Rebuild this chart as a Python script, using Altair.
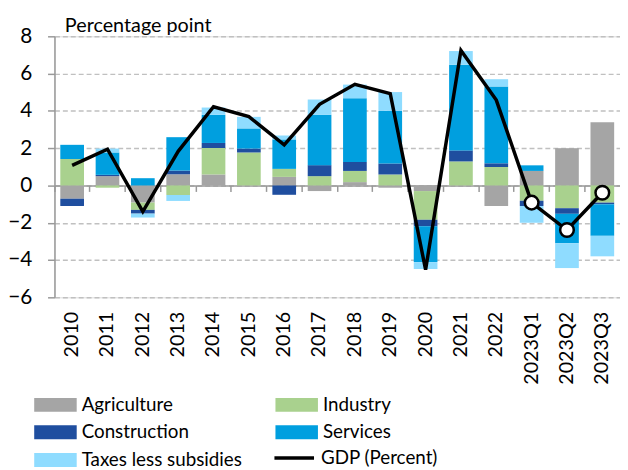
import altair as alt
import pandas as pd

categories = ["2010", "2011", "2012", "2013", "2014", "2015", "2016", "2017",
              "2018", "2019", "2020", "2021", "2022", "2023Q1", "2023Q2", "2023Q3"]
series_names = ["Agriculture", "Industry", "Construction", "Services", "Taxes less subsidies"]
agriculture = [-0.71, 0.50, -0.92, 0.60, 0.59, 0.00, 0.46, -0.30, 0.18, -0.12, -0.30, 0.00, -1.10, 0.78, 2.00, 3.39]
industry = [1.42, -0.12, -0.39, -0.51, 1.42, 1.77, 0.43, 0.50, 0.60, 0.59, -1.54, 1.29, 0.99, -0.82, -1.22, -0.92]
construction = [-0.39, 0.07, -0.20, 0.20, 0.27, 0.21, -0.50, 0.59, 0.48, 0.59, -0.35, 0.59, 0.20, -0.28, -0.30, -0.09]
services = [0.76, 1.20, 0.39, 1.79, 1.51, 1.08, 1.58, 2.70, 3.42, 2.82, -1.92, 4.60, 4.12, 0.30, -1.58, -1.69]
taxes = [0.00, 0.21, -0.21, -0.32, 0.39, 0.62, 0.21, 0.82, 0.73, 1.01, -0.37, 0.73, 0.39, -0.90, -1.33, -1.10]
gdp = [1.08, 1.95, -1.40, 1.83, 4.22, 3.69, 2.18, 4.35, 5.43, 4.93, -4.52, 7.24, 4.58, -0.92, -2.39, -0.39]
y_ticks = [-6, -4, -2, 0, 2, 4, 6, 8]
colors = ["#a5a5a5", "#a9d18e", "#1f4e9f", "#009fdf", "#8fdcff"]
gdp_name = "GDP (Percent)"

rows = []
for k, (name, vals) in enumerate(zip(series_names, [agriculture, industry, construction, services, taxes])):
    for i, c in enumerate(categories):
        rows.append({"cat": c, "series": name, "order": k, "value": vals[i]})
bars_df = pd.DataFrame(rows)
gdp_df = pd.DataFrame({"cat": categories, "gdp": gdp, "series": [gdp_name] * len(categories),
                       "quarter": ["Q" in c for c in categories]})

FONT = "Lato"
W, H = 572, 264
xscale = alt.Scale(domain=categories, paddingInner=0, paddingOuter=0)
yscale = alt.Scale(domain=[-6, 8], nice=False)

bars = alt.Chart(bars_df).mark_bar(width=alt.RelativeBandSize(0.67)).encode(
    x=alt.X("cat:N", sort=categories, scale=xscale,
            axis=alt.Axis(title=None, orient="bottom", labelAngle=270, labelFontSize=20, labelFont=FONT,
                          labelColor="black", labelPadding=14, domain=False, ticks=False, tickSize=0,
                          grid=False)),
    y=alt.Y("value:Q", stack="zero", scale=yscale,
            axis=alt.Axis(title="Percentage point", titleAngle=0, titleX=10, titleY=-5,
                          titleAlign="left", titleBaseline="alphabetic", titleFontSize=20,
                          titleFont=FONT, titleFontWeight="normal", titleColor="black",
                          values=y_ticks, grid=True, gridDash=[5, 3], gridColor="#c0c0c0",
                          gridWidth=1.5, domainColor="#999999", domainWidth=1.5, tickColor="#999999",
                          tickSize=7, tickWidth=1.5, labelFontSize=21, labelFont=FONT,
                          labelColor="black", labelPadding=16)),
    color=alt.Color("series:N", scale=alt.Scale(domain=series_names, range=colors),
                    legend=alt.Legend(title=None, orient="none", legendX=-23, legendY=363, columns=2,
                                      direction="horizontal",
                                      symbolType="M-3.07,-1H3.07V1H-3.07Z", symbolSize=196,
                                      symbolStrokeWidth=0, labelFontSize=19, labelFont=FONT,
                                      labelColor="black", labelLimit=300, columnPadding=31, rowPadding=8,
                                      labelOffset=17, padding=0, symbolOffset=14.5)),
    order=alt.Order("order:Q"),
)

line = alt.Chart(gdp_df).mark_line(color="black", strokeWidth=3.5).encode(
    x=alt.X("cat:N", sort=categories, scale=xscale,
            axis=alt.Axis(title=None, orient="bottom", labels=False, domain=True, domainColor="#999999",
                          domainWidth=1.5, ticks=True, tickColor="#999999", tickSize=6, tickWidth=1.5,
                          bandPosition=0, offset=-H * 6 / 14, grid=False)),
    y=alt.Y("gdp:Q", scale=yscale, axis=None),
    stroke=alt.Stroke("series:N", scale=alt.Scale(domain=[gdp_name], range=["black"]),
                      legend=alt.Legend(title=None, orient="none", legendX=220, legendY=417,
                                        symbolType="M-2.86,0H2.86", symbolSize=196, symbolStrokeWidth=3.5,
                                        labelFontSize=19, labelFont=FONT, labelColor="black",
                                        labelOffset=17.5, padding=0, symbolOffset=13)),
)

points = alt.Chart(gdp_df).transform_filter("datum.quarter").mark_point(
    shape="circle", filled=True, fill="white", stroke="black", strokeWidth=2.5, size=190, opacity=1
).encode(
    x=alt.X("cat:N", sort=categories, scale=xscale, axis=None),
    y=alt.Y("gdp:Q", scale=yscale, axis=None),
)

chart = alt.layer(bars, line, points).resolve_axis(x="independent", y="independent").properties(
    width=W, height=H,
    autosize=alt.AutoSizeParams(type="none"),
    padding={"left": 47, "top": 26, "right": 0, "bottom": 172},
).configure_view(stroke=None).configure(background="white")

chart.save("out.html", embed_options={"renderer": "svg", "actions": False})
